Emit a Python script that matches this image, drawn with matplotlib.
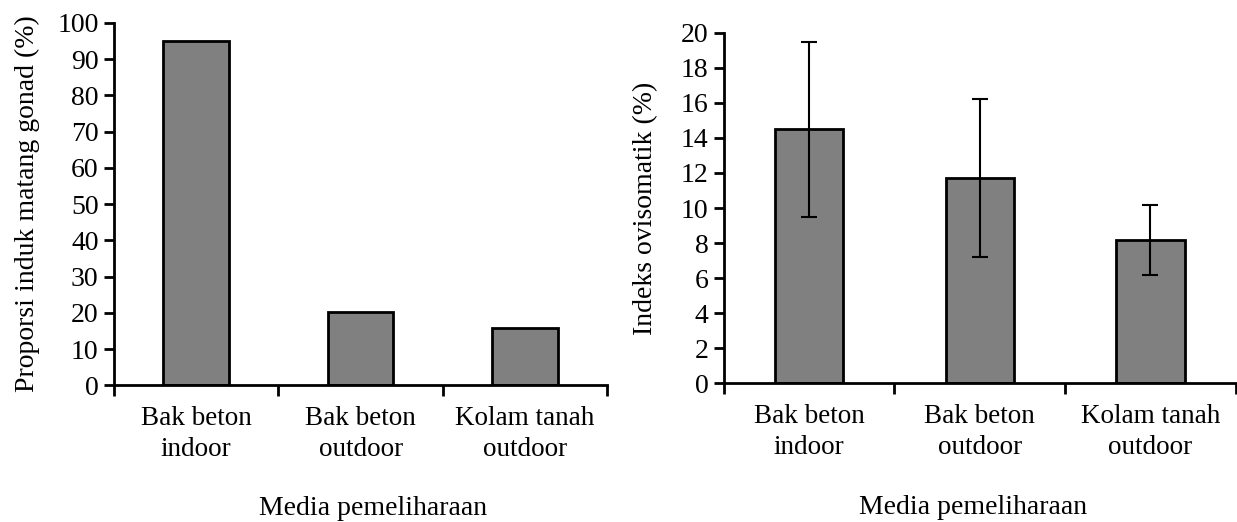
import matplotlib.pyplot as plt
import numpy as np

plt.rcParams['font.family'] = ['Liberation Serif', 'DejaVu Serif']

categories = ['Bak beton\nindoor', 'Bak beton\noutdoor', 'Kolam tanah\noutdoor']
proporsi = [95, 20.3, 15.8]
ovisomatik = [14.5, 11.7, 8.2]
ovisomatik_err = [5.0, 4.5, 2.0]

fig = plt.figure(figsize=(12.37, 5.22), dpi=100)
ax1 = fig.add_axes([0.092, 0.262, 0.399, 0.694])
ax2 = fig.add_axes([0.585, 0.266, 0.414, 0.671])

fs = 20
x = np.arange(len(categories))


def style(ax, ymax, step):
    ax.set_xlim(-0.5, len(categories) - 0.5)
    ax.set_ylim(0, ymax)
    ax.set_yticks(np.arange(0, ymax + step / 2, step))
    ax.set_xticks(x)
    ax.set_xticklabels(categories, fontsize=19.5, linespacing=1.3)
    ax.set_xticks(np.arange(-0.5, len(categories)), minor=True)
    ax.tick_params(axis='x', which='major', length=0, pad=15)
    ax.tick_params(axis='x', which='minor', length=8, width=2, direction='out')
    ax.tick_params(axis='y', length=7, width=2, labelsize=fs, pad=4)
    for s in ['top', 'right']:
        ax.spines[s].set_visible(False)
    for s in ['left', 'bottom']:
        ax.spines[s].set_linewidth(2)
    ax.set_xlabel('Media pemeliharaan', fontsize=fs)


ax1.bar(x, proporsi, width=0.4, color='#808080', edgecolor='black', linewidth=2)
style(ax1, 100, 10)
ax1.set_ylabel('Proporsi induk matang gonad (%)', fontsize=fs, labelpad=12)
ax1.xaxis.set_label_coords(0.525, -0.305)

ax2.bar(x, ovisomatik, width=0.4, color='#808080', edgecolor='black', linewidth=2,
        yerr=ovisomatik_err, error_kw=dict(ecolor='black', elinewidth=1.5, capsize=6, capthick=1.5))
style(ax2, 20, 2)
ax2.set_ylabel('Indeks ovisomatik (%)', fontsize=fs, labelpad=16)
ax2.xaxis.set_label_coords(0.488, -0.318)

fig.savefig('out.png', dpi=100)
